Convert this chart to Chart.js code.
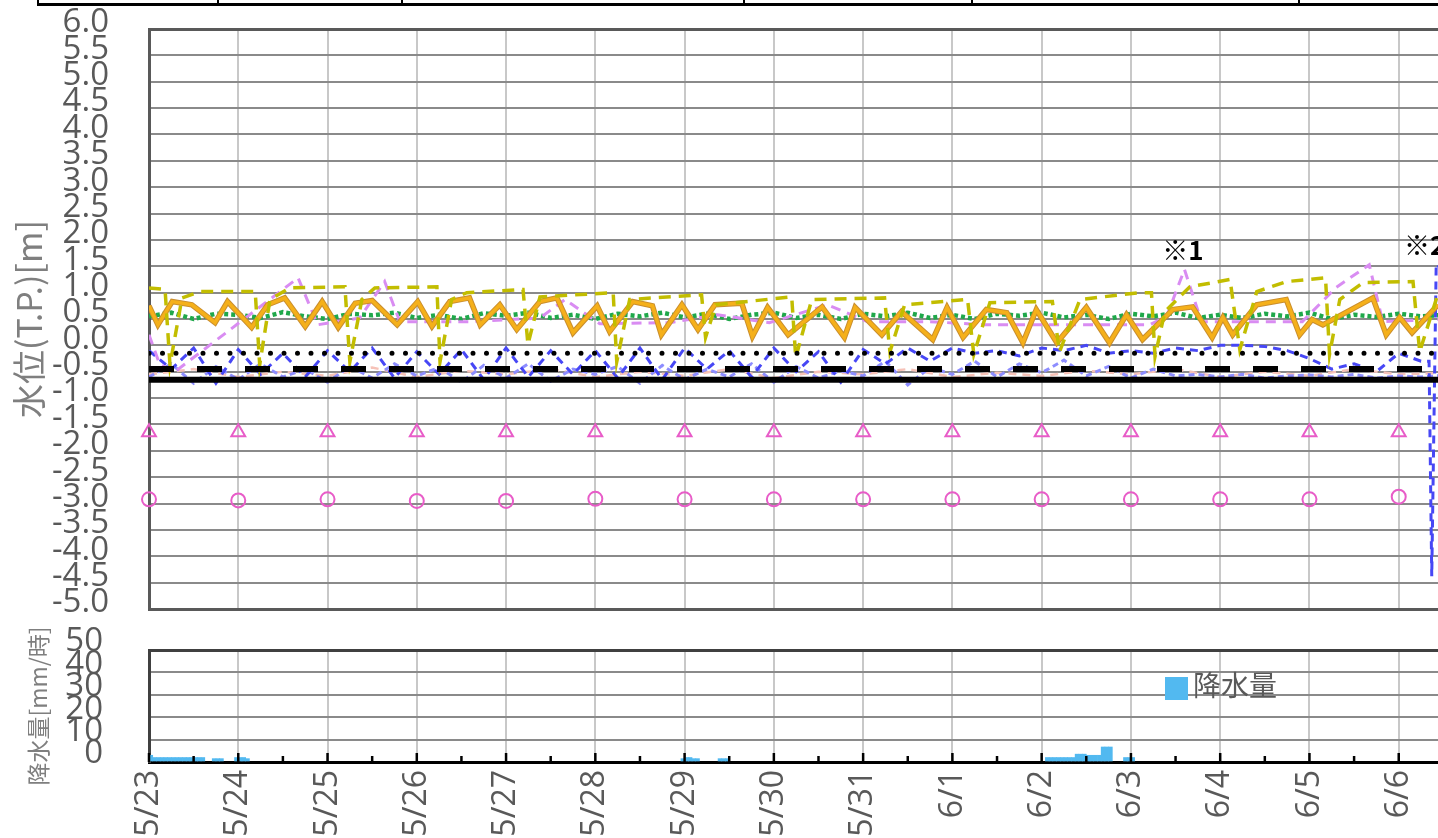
<!DOCTYPE html>
<html lang="ja">
<head>
<meta charset="utf-8">
<script src="https://cdn.jsdelivr.net/npm/chart.js@4.4.1/dist/chart.umd.min.js"></script>
<style>
  body { margin: 0; background: #fff; width: 1438px; height: 838px; overflow: hidden; position: relative; }
  #levelChart { position: absolute; left: 0; top: 0; }
  #rainChart { position: absolute; left: 0; top: 620px; }
  .rule { position: absolute; background: #000; }
</style>
</head>
<body>
<!-- bottom edge of the table above the chart -->
<div class="rule" style="left:37px; top:3px; width:1401px; height:3px;"></div>
<div class="rule" style="left:37px; top:0; width:2px; height:5px;"></div>
<div class="rule" style="left:217px; top:0; width:2px; height:5px;"></div>
<div class="rule" style="left:401px; top:0; width:2px; height:5px;"></div>
<div class="rule" style="left:743px; top:0; width:2px; height:5px;"></div>
<div class="rule" style="left:971px; top:0; width:2px; height:5px;"></div>
<div class="rule" style="left:1298px; top:0; width:2px; height:5px;"></div>

<canvas id="levelChart" width="1438" height="620"></canvas>
<canvas id="rainChart" width="1438" height="218"></canvas>

<script>
// x axis in days since 5/23 0:00
const dateLabels = ['5/23', '5/24', '5/25', '5/26', '5/27', '5/28', '5/29', '5/30', '5/31', '6/1', '6/2', '6/3', '6/4', '6/5', '6/6'];
const X_MAX = 14.44;

// orange solid line (turning points)
const orangeT = [0.0, 0.10, 0.26, 0.48, 0.74, 0.88, 1.15, 1.33, 1.52, 1.75,
  1.94, 2.12, 2.31, 2.50, 2.78, 3.01, 3.17, 3.37, 3.59, 3.71,
  3.93, 4.12, 4.38, 4.57, 4.75, 5.02, 5.16, 5.42, 5.64, 5.74,
  5.97, 6.15, 6.34, 6.64, 6.76, 6.93, 7.16, 7.54, 7.79, 7.91,
  8.21, 8.43, 8.78, 8.94, 9.12, 9.38, 9.61, 9.79, 9.94, 10.17,
  10.5, 10.76, 10.95, 11.13, 11.47, 11.69, 11.91, 12.03, 12.14, 12.41, 12.74,
  12.89, 13.03, 13.15, 13.71, 13.86, 14.01, 14.15, 14.44];
const orangeV = [0.75, 0.39, 0.83, 0.77, 0.43, 0.83, 0.34, 0.77, 0.9, 0.36,
  0.83, 0.34, 0.8, 0.85, 0.39, 0.83, 0.36, 0.83, 0.9, 0.39,
  0.77, 0.3, 0.83, 0.9, 0.24, 0.75, 0.26, 0.83, 0.75, 0.2,
  0.77, 0.3, 0.77, 0.8, 0.17, 0.72, 0.2, 0.73, 0.15, 0.72,
  0.2, 0.64, 0.11, 0.72, 0.15, 0.68, 0.62, 0.05, 0.68, 0.05,
  0.72, 0.05, 0.58, 0.11, 0.68, 0.73, 0.15, 0.53, 0.2, 0.77, 0.87,
  0.2, 0.49, 0.39, 0.9, 0.2, 0.53, 0.24, 0.77];

// olive dashed line
const oliveT = [0, 0.18, 0.235, 0.37, 0.57, 1.19, 1.24, 1.355, 1.58, 2.195, 2.25, 2.385, 2.53,
  3.225, 3.26, 3.39, 3.56, 4.19, 4.245, 4.38, 5.2, 5.24, 5.385, 6.19, 6.235, 6.35,
  7.2, 7.245, 7.425, 8.24, 8.3, 8.465, 9.17, 9.24, 9.42, 10.12, 10.2, 10.43,
  11.1, 11.23, 11.27, 11.38, 11.66, 12.11, 12.22, 12.41, 12.745, 13.18, 13.225, 13.34, 13.6,
  14.16, 14.235, 14.425];
const oliveV = [1.09, 1.06, -0.37, 0.9, 1.02, 1.02, -0.37, 0.87, 1.09, 1.11, -0.31, 0.87, 1.09,
  1.11, -0.31, 0.87, 1.0, 1.06, 0.02, 0.92, 1.0, -0.31, 0.87, 0.96, 0.15, 0.77,
  0.92, -0.23, 0.87, 0.9, -0.12, 0.77, 0.87, -0.17, 0.81, 0.83, -0.12, 0.87,
  1.0, 1.0, -0.21, 0.64, 1.11, 1.25, -0.08, 1.02, 1.21, 1.28, -0.17, 0.87, 1.19,
  1.21, -0.12, 0.9];

// violet dashed line
const violetT = [0, 0.12, 0.29, 1.67, 1.89, 2.36, 2.64, 2.81, 3.6, 4.38, 4.66, 5.05, 5.83, 6.37, 6.95,
  7.6, 8.05, 8.75, 9.36, 10.09, 10.84, 11.21, 11.4, 11.6, 11.79, 12.44, 12.92, 13.3, 13.67, 13.82, 14.44];
const violetV = [0.2, -0.36, -0.5, 1.28, 0.39, 0.52, 1.21, 0.45, 0.45, 0.52, 0.87, 0.41, 0.43, 0.58, 0.43,
  0.77, 0.45, 0.45, 0.39, 0.39, 0.39, 0.39, 0.55, 1.44, 0.45, 0.45, 0.45, 1.1, 1.53, 0.45, 0.49];

// green dotted, every 6 hours
const greenV = [0.55, 0.62, 0.50, 0.60, 0.58, 0.52, 0.63, 0.55, 0.50, 0.60, 0.57, 0.62,
  0.52, 0.58, 0.50, 0.61, 0.56, 0.62, 0.52, 0.58, 0.50, 0.60, 0.55, 0.62,
  0.53, 0.60, 0.50, 0.58, 0.62, 0.52, 0.58, 0.50, 0.60, 0.55, 0.62, 0.52,
  0.58, 0.50, 0.60, 0.56, 0.62, 0.53, 0.58, 0.50, 0.60, 0.55, 0.62, 0.52,
  0.58, 0.52, 0.60, 0.55, 0.62, 0.50, 0.58, 0.54, 0.60, 0.55, 0.58];

// blue dashed, every 6 hours, then the drop at the end
const blueV = [-0.10, -0.45, -0.05, -0.72, -0.08, -0.55, -0.15, -0.60, -0.10, -0.50, -0.05, -0.62,
  -0.12, -0.55, -0.08, -0.65, -0.05, -0.60, -0.10, -0.55, -0.10, -0.62, -0.05, -0.65,
  -0.05, -0.45, -0.10, -0.60, -0.05, -0.50, -0.12, -0.70, -0.08, -0.35, -0.05, -0.30,
  -0.05, -0.15, -0.10, -0.20, -0.05, -0.10, 0.00, -0.15, -0.10, -0.15, -0.05, -0.10,
  0.00, 0.00, -0.02, -0.10, -0.25, -0.45, -0.35, -0.50, -0.15, -0.30];
const blueEndT = [14.34, 14.37, 14.42, 14.5];
const blueEndV = [-0.3, -4.38, 1.55, 1.4];

// light blue dashed, every 6 hours
const lightBlueV = [-0.60, -0.35, -0.72, -0.40, -0.65, -0.35, -0.60, -0.45, -0.70, -0.40, -0.62, -0.35,
  -0.58, -0.42, -0.70, -0.38, -0.62, -0.35, -0.68, -0.45, -0.55, -0.40, -0.72, -0.38,
  -0.65, -0.45, -0.60, -0.35, -0.70, -0.40, -0.62, -0.48, -0.58, -0.30, -0.75, -0.42,
  -0.55, -0.30, -0.60, -0.35, -0.52, -0.28, -0.58, -0.40, -0.62, -0.45, -0.58, -0.55,
  -0.60, -0.55, -0.62, -0.58, -0.56, -0.60, -0.55, -0.62, -0.58, -0.60, -0.57];

// pale pink dashed, every 12 hours
const pinkV = [-0.55, -0.45, -0.60, -0.50, -0.58, -0.42, -0.60, -0.48, -0.55, -0.45, -0.60, -0.50,
  -0.58, -0.45, -0.62, -0.50, -0.55, -0.45, -0.60, -0.52, -0.58, -0.48, -0.55, -0.45,
  -0.60, -0.50, -0.58, -0.45, -0.55, -0.52];

// reference levels
const solidLevel = -0.65;
const dashLevel = -0.45;
const dotLevel = -0.15;

// daily markers
const markDays = [0, 1, 2, 3, 4, 5, 6, 7, 8, 9, 10, 11, 12, 13, 14];
const triangleV = [-1.65, -1.65, -1.65, -1.65, -1.65, -1.65, -1.65, -1.65, -1.65, -1.65, -1.65, -1.65, -1.65, -1.65, -1.65];
const circleV = [-2.92, -2.94, -2.92, -2.95, -2.95, -2.91, -2.92, -2.92, -2.92, -2.92, -2.92, -2.92, -2.92, -2.92, -2.87];

// hourly rainfall (hours since 5/23 0:00)
const rainHours = [0, 1, 2, 3, 4, 5, 6, 7, 8, 9, 10, 11, 12, 13, 14, 17, 18, 19, 23, 24, 25, 26,
  143, 144, 145, 146, 147, 153, 154, 155,
  241, 242, 243, 244, 245, 246, 247, 248, 249, 250, 251, 252, 253, 254, 255, 256, 257, 258, 262, 263, 264];
const rainMm = [3, 2, 2, 2, 2, 2, 2, 2, 2, 2, 2, 2, 2, 2, 2, 1.5, 1.5, 1.5, 2, 2, 2, 1.5,
  1.5, 2, 2, 1.5, 1.5, 1.5, 1.5, 1.5,
  2, 2, 2, 2, 2, 2, 2, 2, 3.5, 3.5, 3.5, 3, 3, 3, 3, 6.7, 6.7, 6.7, 2, 2, 2];

const pts = (t, v) => t.map((x, i) => ({x: x, y: v[i]}));
const every = (v, dt) => v.map((y, i) => ({x: i * dt, y: y}));
const flat = y => [{x: 0, y: y}, {x: X_MAX + 0.1, y: y}];

const tickFont = {family: "'Liberation Sans Narrow', 'Open Sans', sans-serif", size: 33};
const gray = '#595959';
const pinkMark = '#e85cc8';

function lineSet(data, color, width, dash, extra) {
  return Object.assign({data: data, borderColor: color, borderWidth: width, borderDash: dash || [],
    pointRadius: 0, tension: 0, fill: false}, extra || {});
}

// ※ notes above the lines
const notes = {
  id: 'notes',
  afterDatasetsDraw(chart) {
    const {ctx, scales: {x, y}} = chart;
    ctx.save();
    ctx.fillStyle = '#000';
    ctx.font = "bold 26px 'Noto Sans CJK JP', sans-serif";
    ctx.textBaseline = 'middle';
    ctx.fillText('※1', x.getPixelForValue(11.35), y.getPixelForValue(1.8));
    ctx.fillText('※2', x.getPixelForValue(14.06), y.getPixelForValue(1.9));
    ctx.restore();
  }
};

new Chart(document.getElementById('levelChart'), {
  type: 'line',
  data: {
    datasets: [
      lineSet(pts(markDays, triangleV), pinkMark, 2, null, {showLine: false, pointStyle: 'triangle', pointRadius: 8, pointBorderWidth: 2, pointBackgroundColor: 'rgba(0,0,0,0)', pointBorderColor: pinkMark, clip: false}),
      lineSet(pts(markDays, circleV), pinkMark, 2, null, {showLine: false, pointStyle: 'circle', pointRadius: 7, pointBorderWidth: 2, pointBackgroundColor: 'rgba(0,0,0,0)', pointBorderColor: pinkMark, clip: false}),
      lineSet(flat(solidLevel), '#000', 6),
      lineSet(flat(dashLevel), '#000', 6, [25, 23]),
      lineSet(flat(dotLevel), '#000', 5, [0, 13.5], {borderCapStyle: 'round'}),
      lineSet(pts(oliveT, oliveV), '#c2bd00', 3.5, [12, 8]),
      lineSet(pts(orangeT, orangeV), '#f5b01a', 3.5),
      lineSet(pts(orangeT, orangeV), '#c98e2e', 5.5),
      lineSet(pts(violetT, violetV), '#d98cf2', 3, [10, 7]),
      lineSet(every(greenV, 0.25), '#1fa84a', 4.5, [4, 3]),
      lineSet(every(blueV, 0.25).concat(pts(blueEndT, blueEndV)), '#4747f5', 3, [8, 6]),
      lineSet(every(lightBlueV, 0.25), '#8d8dff', 3, [6, 4]),
      lineSet(every(pinkV, 0.5), '#f6c2b8', 2.5, [8, 6])
    ]
  },
  options: {
    responsive: false,
    animation: false,
    devicePixelRatio: 1,
    layout: {autoPadding: false, padding: {top: 29, left: 0, right: 0, bottom: 0}},
    plugins: {legend: {display: false}, tooltip: {enabled: false}},
    scales: {
      x: {
        type: 'linear', min: 0, max: X_MAX,
        afterBuildTicks: s => { s.ticks = markDays.map(v => ({value: v})); },
        afterFit: s => { s.height = 11; s.paddingLeft = 0; s.paddingRight = 0; },
        ticks: {display: false},
        grid: {color: '#c8c8c8', lineWidth: 2, drawTicks: false},
        border: {color: gray, width: 3}
      },
      y: {
        min: -5, max: 6,
        afterFit: s => { s.width = 149; s.paddingTop = 0; s.paddingBottom = 0; },
        ticks: {stepSize: 0.5, autoSkip: false, padding: 40, labelOffset: -6, color: gray, font: tickFont,
          callback: v => (Math.abs(v) < 1e-9 ? 0 : v).toFixed(1)},
        grid: {drawTicks: false,
          color: c => c.tick && c.tick.value === 6 ? gray : '#8a8a8a',
          lineWidth: c => c.tick && c.tick.value === 6 ? 3 : 2},
        border: {color: gray, width: 3},
        title: {display: true, text: '水位(T.P.)[m]', color: '#7f7f7f',
          font: {family: "'Noto Sans CJK JP', sans-serif", size: 34}, padding: {top: 9, bottom: 0}}
      }
    }
  },
  plugins: [notes]
});

// inside tick marks on the rain chart's base line, and its legend
const rainExtras = {
  id: 'rainExtras',
  afterDatasetsDraw(chart) {
    const {ctx, chartArea, scales: {x}} = chart;
    ctx.save();
    ctx.strokeStyle = '#000';
    ctx.lineWidth = 2.5;
    for (let i = 0; i / 2 <= X_MAX; i++) {
      const px = x.getPixelForValue(i / 2);
      const len = i % 2 ? 6 : 9;
      ctx.beginPath();
      ctx.moveTo(px, chartArea.bottom);
      ctx.lineTo(px, chartArea.bottom - len);
      ctx.stroke();
    }
    ctx.fillStyle = '#52b9f0';
    ctx.fillRect(1165, 57, 23, 23);
    ctx.fillStyle = gray;
    ctx.font = "28px 'Noto Sans CJK JP', sans-serif";
    ctx.textBaseline = 'middle';
    ctx.fillText('降水量', 1193, 65);
    ctx.restore();
  }
};

new Chart(document.getElementById('rainChart'), {
  type: 'bar',
  data: {
    datasets: [{
      label: '降水量',
      data: rainHours.map((h, i) => ({x: (h + 0.5) / 24, y: rainMm[i]})),
      backgroundColor: '#52b9f0',
      barPercentage: 1,
      categoryPercentage: 1
    }]
  },
  options: {
    responsive: false,
    animation: false,
    devicePixelRatio: 1,
    layout: {autoPadding: false, padding: {top: 30, left: 0, right: 0, bottom: 0}},
    plugins: {legend: {display: false}, tooltip: {enabled: false}},
    scales: {
      x: {
        type: 'linear', min: 0, max: X_MAX, offset: false,
        afterBuildTicks: s => { s.ticks = markDays.map(v => ({value: v})); },
        afterFit: s => { s.height = 76; s.paddingLeft = 0; s.paddingRight = 0; },
        ticks: {autoSkip: false, minRotation: 90, maxRotation: 90, padding: 8, color: gray,
          font: {family: "'Open Sans', sans-serif", size: 32},
          callback: v => dateLabels[v]},
        grid: {offset: false, color: '#c8c8c8', lineWidth: 2, drawTicks: false},
        border: {color: '#000', width: 3}
      },
      y: {
        min: 0, max: 50,
        afterFit: s => { s.width = 149; s.paddingTop = 0; s.paddingBottom = 0; },
        ticks: {stepSize: 10, autoSkip: false, padding: 46, labelOffset: -8, color: gray, font: tickFont},
        grid: {drawTicks: false,
          color: c => c.tick && c.tick.value === 50 ? '#404040' : '#8a8a8a',
          lineWidth: c => c.tick && c.tick.value === 50 ? 3 : 2},
        border: {color: '#404040', width: 3},
        title: {display: true, text: '降水量[mm/時]', color: '#7f7f7f',
          font: {family: "'Noto Sans CJK JP', sans-serif", size: 23}, padding: {top: 24, bottom: 0}}
      }
    }
  },
  plugins: [rainExtras]
});
</script>
</body>
</html>
